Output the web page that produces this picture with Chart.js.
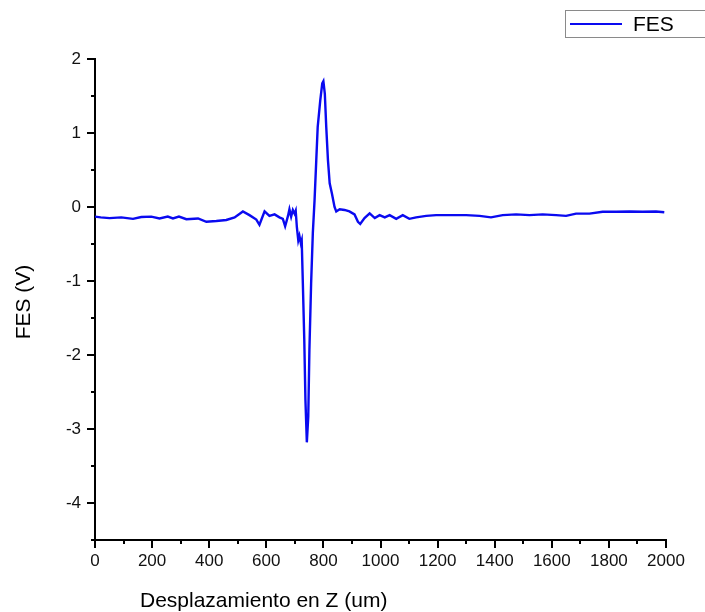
<!DOCTYPE html>
<html>
<head>
<meta charset="utf-8">
<title>FES vs Z</title>
<script src="https://cdn.jsdelivr.net/npm/chart.js@4/dist/chart.umd.min.js"></script>
<style>
  html, body { margin: 0; padding: 0; background: #fff; }
  #wrap { width: 705px; height: 612px; }
</style>
</head>
<body>
<div id="wrap"><canvas id="c" width="705" height="612"></canvas></div>
<script>
// Z displacement (um) and focus error signal FES (V)
const zPositions = [
  0, 20, 51, 92, 133, 162, 197, 226, 255, 273, 294, 320, 361, 390, 425, 460, 489,
  518, 541, 565, 576, 594, 611, 629, 646, 658, 666, 676, 681, 687, 693, 699, 703,
  707, 712, 716, 721, 724, 728, 733, 737, 742, 747, 751, 757, 763, 769, 775, 780,
  789, 796, 800, 805, 810, 816, 822, 830, 839, 845, 857, 874, 891, 909, 921, 929,
  944, 962, 980, 997, 1015, 1032, 1055, 1078, 1101, 1125, 1160, 1195, 1242, 1300,
  1347, 1387, 1428, 1475, 1522, 1568, 1615, 1650, 1685, 1732, 1778, 1825, 1872,
  1918, 1965, 1994
];
const fesValues = [
  -0.13, -0.14, -0.15, -0.14, -0.16, -0.135, -0.13, -0.155, -0.13, -0.155, -0.13,
  -0.165, -0.155, -0.2, -0.19, -0.175, -0.14, -0.06, -0.11, -0.17, -0.24, -0.06,
  -0.12, -0.10, -0.14, -0.16, -0.26, -0.12, -0.03, -0.13, -0.04, -0.09, -0.05,
  -0.27, -0.45, -0.39, -0.49, -0.45, -1.03, -1.79, -2.6, -3.18, -2.83, -1.93,
  -1.03, -0.35, 0.09, 0.63, 1.08, 1.44, 1.67, 1.70, 1.53, 1.08, 0.63, 0.32, 0.18,
  0.0, -0.06, -0.03, -0.04, -0.06, -0.10, -0.20, -0.23, -0.15, -0.085, -0.15,
  -0.11, -0.14, -0.11, -0.16, -0.11, -0.16, -0.14, -0.12, -0.11, -0.11, -0.11,
  -0.12, -0.14, -0.11, -0.10, -0.11, -0.10, -0.11, -0.12, -0.09, -0.09, -0.065,
  -0.065, -0.06, -0.065, -0.06, -0.07
];

// Axis ticks
const xMajorTicks = [0, 200, 400, 600, 800, 1000, 1200, 1400, 1600, 1800, 2000];
const xMinorTicks = [100, 300, 500, 700, 900, 1100, 1300, 1500, 1700, 1900];
const yMajorTicks = [-4, -3, -2, -1, 0, 1, 2];
const yMinorTicks = [-4.5, -3.5, -2.5, -1.5, -0.5, 0.5, 1.5];

const xTitle = 'Desplazamiento en Z (um)';
const yTitle = 'FES (V)';
const seriesName = 'FES';
const lineColor = '#0a0af0';
const fontFamily = '"Liberation Sans", Arial, sans-serif';

// Minor tick marks, axis titles and the boxed legend
const decorations = {
  id: 'decorations',
  afterDraw(chart) {
    const { ctx, scales: { x, y }, chartArea: a } = chart;
    ctx.save();
    ctx.strokeStyle = '#000';
    ctx.lineWidth = 2;
    ctx.beginPath();
    xMinorTicks.forEach(v => {
      const px = Math.round(x.getPixelForValue(v));
      ctx.moveTo(px, a.bottom);
      ctx.lineTo(px, a.bottom + 4);
    });
    yMinorTicks.forEach(v => {
      const py = Math.round(y.getPixelForValue(v));
      ctx.moveTo(a.left, py);
      ctx.lineTo(a.left - 4, py);
    });
    ctx.stroke();

    ctx.fillStyle = '#000';
    ctx.font = '21px ' + fontFamily;
    ctx.textBaseline = 'middle';
    ctx.textAlign = 'left';
    ctx.fillText(xTitle, 140, 601);

    ctx.save();
    ctx.translate(24, 302);
    ctx.rotate(-Math.PI / 2);
    ctx.textAlign = 'center';
    ctx.fillText(yTitle, 0, 0);
    ctx.restore();

    // legend
    ctx.strokeStyle = '#8a8a8a';
    ctx.lineWidth = 1;
    ctx.strokeRect(565.5, 10.5, 150, 27);
    ctx.strokeStyle = lineColor;
    ctx.lineWidth = 2;
    ctx.beginPath();
    ctx.moveTo(570, 24);
    ctx.lineTo(622, 24);
    ctx.stroke();
    ctx.fillStyle = '#000';
    ctx.textAlign = 'left';
    ctx.fillText(chart.data.datasets[0].label, 633, 25);
    ctx.restore();
  }
};

new Chart(document.getElementById('c'), {
  type: 'line',
  data: {
    datasets: [{
      label: seriesName,
      data: zPositions.map((z, i) => ({ x: z, y: fesValues[i] })),
      borderColor: lineColor,
      borderWidth: 2.4,
      pointRadius: 0,
      tension: 0,
      fill: false
    }]
  },
  options: {
    responsive: false,
    animation: false,
    layout: { padding: { left: 0, top: 59, right: 39, bottom: 0 } },
    plugins: { legend: { display: false }, tooltip: { enabled: false } },
    scales: {
      x: {
        type: 'linear',
        min: 0,
        max: 2000,
        afterBuildTicks: s => { s.ticks = xMajorTicks.map(v => ({ value: v })); },
        afterFit: s => { s.height = 72; },
        border: { display: true, color: '#000', width: 2 },
        grid: { drawOnChartArea: false, drawTicks: true, tickLength: 8, color: '#000', lineWidth: 2 },
        ticks: { color: '#111', padding: 3, maxRotation: 0, autoSkip: false,
                 callback: v => String(v),
                 font: { family: fontFamily, size: 17 } }
      },
      y: {
        type: 'linear',
        min: -4.5,
        max: 2,
        afterBuildTicks: s => { s.ticks = yMajorTicks.map(v => ({ value: v })); },
        afterFit: s => { s.width = 95; },
        border: { display: true, color: '#000', width: 2 },
        grid: { drawOnChartArea: false, drawTicks: true, tickLength: 8, color: '#000', lineWidth: 2 },
        ticks: { color: '#111', padding: 6, autoSkip: false,
                 callback: v => String(v),
                 font: { family: fontFamily, size: 17 } }
      }
    }
  },
  plugins: [decorations]
});
</script>
</body>
</html>
